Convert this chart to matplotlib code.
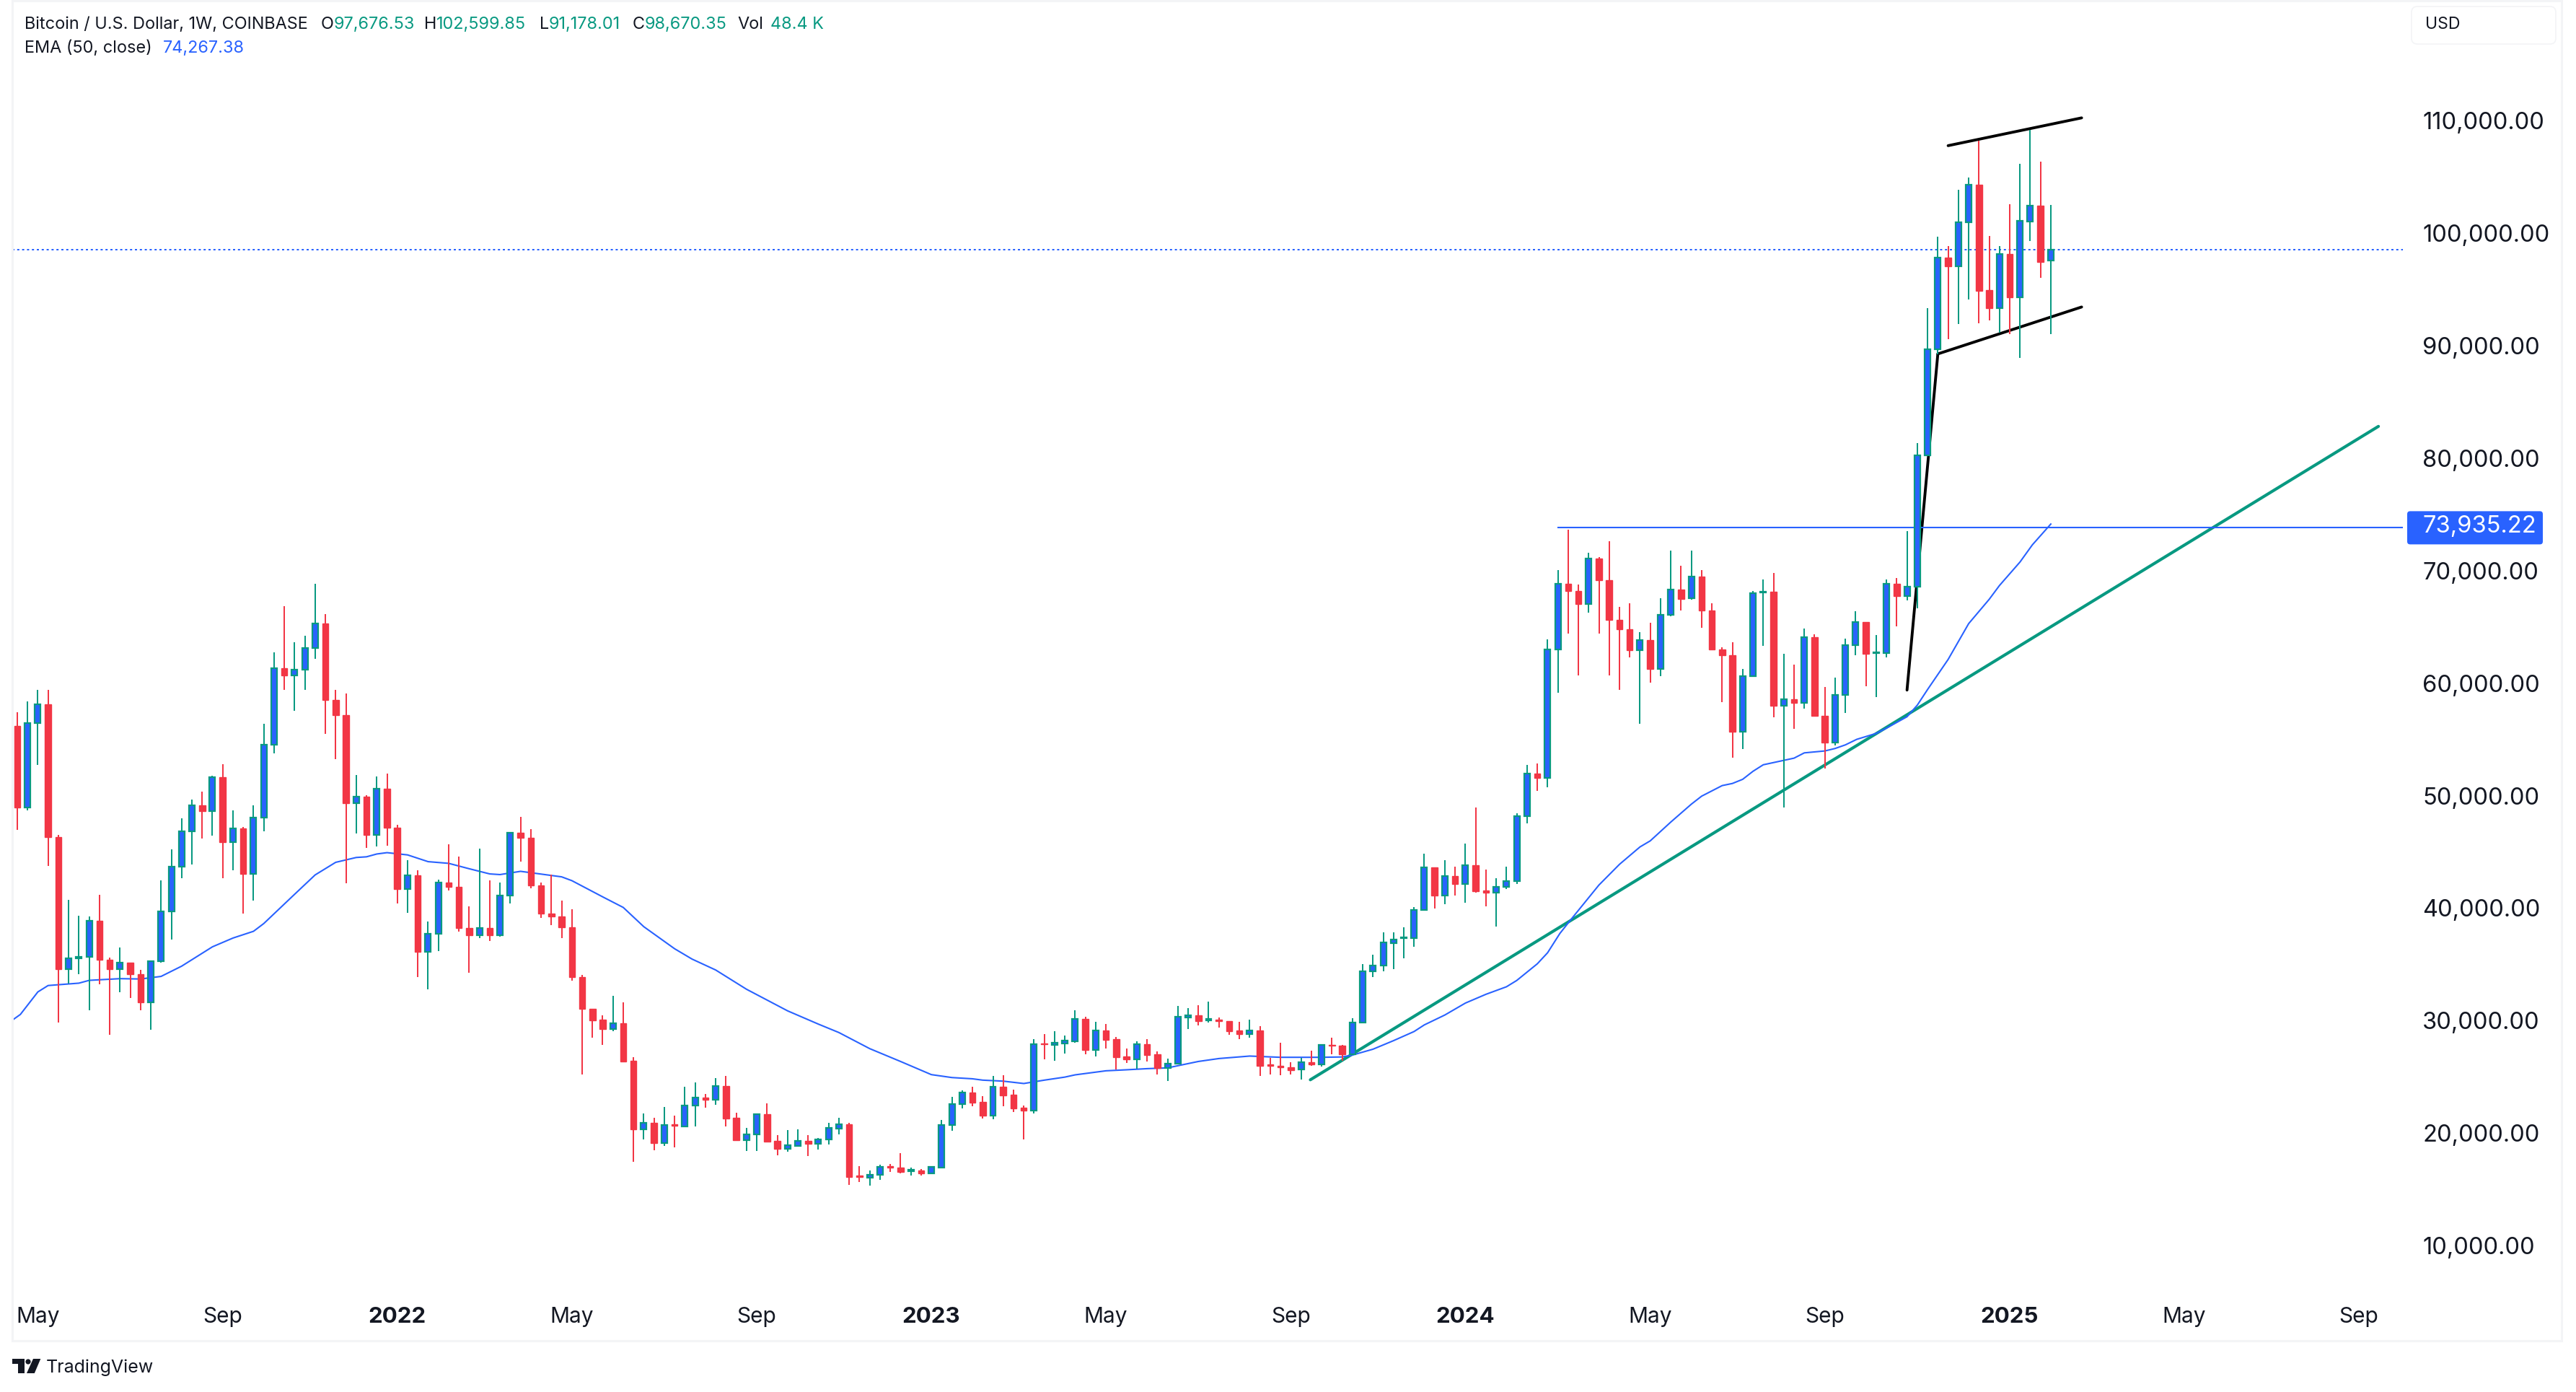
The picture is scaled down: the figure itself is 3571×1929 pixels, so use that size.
import matplotlib
matplotlib.use('Agg')
import matplotlib.pyplot as plt
from matplotlib.patches import Rectangle, FancyBboxPatch, Polygon, Circle
from matplotlib.transforms import IdentityTransform, ScaledTranslation
import numpy as np
import pandas as pd

plt.rcParams['font.family'] = ['Inter', 'DejaVu Sans']

W = 3571
H = 1929

TEAL = '#089981'
RED = '#f23645'
BLUE = '#2962ff'
INK = '#131722'
FRAME = '#f3f4f6'

# weekly candles, first one is the week of 2021-04-19
first_week = pd.Timestamp('2021-04-19')

opens = [56290, 49070, 56580, 58270, 46430, 34690, 35660, 35800, 38980, 35520,
         34690, 35260, 34230, 31740, 35400, 39820, 43800, 46950, 49270, 48730,
         51760, 45980, 47210, 43170, 48180, 54660, 61450, 60820, 61330, 63250,
         65430, 58640, 57290, 49440, 50020, 46630, 50730, 47260, 41820, 43050,
         36230, 37840, 42390, 41990, 38350, 37700, 38350, 37750, 41250, 46810,
         46380, 42140, 39640, 39410, 38410, 33990, 31210, 30200, 29410, 29880,
         26550, 20490, 21030, 19270, 20900, 20750, 22570, 23270, 23120, 24320,
         21480, 19530, 20000, 21800, 19420, 18760, 19020, 19420, 19210, 19550,
         20560, 20900, 16340, 16190, 16410, 17180, 17050, 16770, 16790, 16580,
         17090, 20840, 22700, 23720, 22890, 21710, 24240, 23530, 22380, 22160,
         28090, 27940, 28110, 28320, 30270, 27550, 29240, 28470, 26930, 26720,
         28020, 27120, 25900, 26290, 30440, 30610, 30180, 30200, 30100, 29240,
         28960, 29240, 26230, 26120, 25990, 25770, 26460, 26210, 28000, 27880,
         27120, 29950, 34490, 35000, 37040, 37440, 37440, 39970, 43750, 41270,
         42960, 42250, 43940, 41680, 41490, 42000, 42500, 48290, 52070, 51680,
         63130, 68970, 68330, 67150, 71210, 69290, 65720, 64930, 63040, 63960,
         61380, 66190, 68460, 67660, 69610, 66590, 63130, 62620, 55810, 60750,
         68180, 68220, 58100, 58700, 58360, 64220, 57250, 54830, 59060, 63510,
         65570, 62810, 62810, 68970, 67860, 68680, 80400, 89830, 97980, 97190,
         101120, 104400, 95050, 93470, 98300, 94430, 101170, 102560, 97676.53]

closes = [49070, 56600, 58270, 46430, 34690, 35660, 35800, 38980, 35520, 34690,
          35260, 34230, 31740, 35400, 39820, 43800, 46950, 49270, 48730, 51760,
          45980, 47210, 43170, 48180, 54660, 61450, 60820, 61330, 63250, 65430,
          58610, 57260, 49440, 50020, 46630, 50730, 47260, 41820, 43050, 36230,
          37840, 42390, 41990, 38350, 37700, 38350, 37750, 41250, 46810, 46380,
          42140, 39620, 39410, 38410, 33970, 31210, 30180, 29410, 29880, 26520,
          20490, 21030, 19270, 20840, 20810, 22570, 23270, 23120, 24300, 21460,
          19530, 20000, 21800, 19400, 18760, 19040, 19420, 19210, 19550, 20580,
          20900, 16260, 16260, 16410, 17110, 17090, 16710, 16860, 16580, 17110,
          20840, 22700, 23720, 22870, 21710, 24240, 23510, 22350, 22160, 28020,
          28020, 28150, 28340, 30270, 27550, 29240, 28450, 26910, 26720, 28020,
          27100, 25900, 26290, 30460, 30610, 30120, 30290, 30080, 29220, 28960,
          29240, 26140, 26140, 26010, 25730, 26460, 26210, 27980, 27930, 27170,
          29950, 34490, 35000, 37070, 37310, 37530, 39970, 43750, 41270, 42960,
          42250, 43940, 41640, 41490, 42000, 42520, 48290, 52070, 51680, 63130,
          68970, 68310, 67150, 71210, 69270, 65740, 64900, 63040, 63960, 61380,
          66210, 68460, 67640, 69610, 66570, 63110, 62590, 55790, 60750, 68130,
          68280, 58100, 58700, 58360, 64200, 57250, 54830, 59060, 63510, 65570,
          62720, 62890, 68970, 67860, 68690, 80400, 89830, 97980, 97190, 101120,
          104400, 94980, 93470, 98300, 94430, 101190, 102540, 97550, 98670.35]

highs = [57550, 58520, 59560, 59560, 46660, 40880, 39470, 39410, 41330, 35750,
         36640, 35260, 34630, 35400, 42620, 45370, 48100, 49810, 50500, 51880,
         52910, 48810, 47320, 49270, 56520, 62850, 67000, 63740, 64310, 68980,
         66260, 59500, 59210, 51960, 50160, 51850, 52110, 47550, 44400, 43510,
         38960, 42680, 45830, 44740, 40300, 45430, 42620, 42420, 46920, 48210,
         47180, 42420, 43110, 40790, 40040, 34200, 31210, 30610, 32340, 31770,
         26870, 21880, 21500, 22460, 21690, 24260, 24640, 23620, 25010, 25220,
         21950, 20600, 21880, 22780, 19960, 20410, 20470, 19960, 19700, 21030,
         21500, 21030, 17200, 16810, 17310, 17390, 18350, 17050, 16920, 17110,
         21310, 23360, 23940, 24260, 23420, 25220, 25290, 24000, 22590, 28490,
         28940, 29200, 28810, 31040, 30480, 30030, 29840, 28690, 27660, 28280,
         28490, 27400, 26760, 31450, 31250, 31510, 31830, 30400, 30100, 30030,
         30230, 29650, 26830, 28170, 26440, 26830, 27460, 28000, 28620, 27980,
         30340, 35150, 35990, 38000, 38000, 38440, 40210, 44980, 43750, 44410,
         43820, 45880, 49100, 43580, 42790, 43820, 48560, 52860, 53010, 64030,
         70150, 73780, 68900, 71730, 71300, 72750, 66920, 67240, 64670, 65500,
         67690, 71920, 70570, 71920, 70150, 67240, 63320, 63770, 61400, 68330,
         69350, 69930, 62740, 61800, 64990, 64480, 59790, 60650, 64090, 66530,
         65570, 64410, 69330, 69500, 73610, 81480, 93440, 99780, 98960, 103950,
         105060, 108330, 99860, 98960, 102690, 106280, 109300, 106470, 102599.85]

lows = [47060, 48810, 52880, 43860, 29990, 33430, 34230, 31020, 33340, 28840,
        32680, 32110, 31020, 29300, 35260, 37320, 42820, 44000, 46290, 46550,
        42820, 43480, 39620, 40790, 46950, 53880, 59530, 57660, 59530, 62280,
        55600, 53370, 42310, 46780, 45460, 45630, 45660, 40530, 39700, 34030,
        32940, 36290, 41680, 38010, 34370, 37440, 37180, 37580, 40530, 44260,
        41880, 39240, 38610, 37440, 33710, 25370, 28640, 28000, 29220, 26520,
        17610, 19590, 18630, 19020, 18890, 20750, 20750, 22420, 22650, 20750,
        19530, 18570, 18570, 19340, 18180, 18500, 18930, 18120, 18700, 19150,
        20040, 15550, 15810, 15490, 16000, 16710, 16580, 16340, 16340, 16580,
        17090, 20370, 22350, 22550, 21460, 21390, 22550, 22030, 19590, 21910,
        26720, 26530, 27230, 28190, 27170, 26970, 27680, 25800, 26400, 25880,
        26520, 25370, 24790, 26250, 29410, 29730, 29930, 29540, 28840, 28490,
        28640, 25240, 25350, 25310, 25370, 24910, 26140, 26020, 27170, 26580,
        27070, 29950, 34020, 34540, 34730, 35640, 36720, 39970, 40110, 40480,
        41270, 40630, 41490, 40260, 38490, 41810, 42250, 47680, 50530, 50890,
        59260, 64520, 60800, 66380, 64520, 60800, 59560, 62400, 56500, 60160,
        60730, 66060, 66570, 67540, 65030, 63110, 58420, 53480, 54300, 60690,
        63410, 57120, 49050, 56090, 57850, 57180, 52520, 54570, 57460, 62590,
        59840, 58870, 62400, 65160, 67470, 66770, 80400, 89360, 90690, 92030,
        94210, 92100, 92350, 91260, 91160, 89020, 99410, 96140, 91178.01]

# EMA (50, close) read at its bends
ema_weeks = [-0.5, 0.3, 2, 3, 6, 7, 10, 12, 14, 16, 19, 21, 23, 24, 27, 29, 31, 33, 34, 35,
             36, 38, 40, 42, 44, 46, 47, 49, 53, 54, 57, 59, 61, 64, 65.7, 68, 71, 73, 75, 78,
             80, 83, 86, 89, 91, 93, 94, 96, 98, 100, 102, 103, 106, 108, 110, 112, 115, 117,
             120, 123, 125, 127, 129, 130, 132, 134, 136, 137, 139, 141, 143, 145, 146, 148,
             149, 150.2, 151.2, 154, 156, 158, 159, 161, 163, 164, 166, 167, 168, 169, 170,
             173, 174, 176, 177, 178, 179.1, 181, 182, 184, 185, 186, 188, 190, 192, 193, 195,
             196.2, 198]
ema_values = [30160, 30680, 32680, 33250, 33460, 33710, 33860, 33830, 34060, 34970, 36690,
              37470, 38070, 38760, 41360, 43080, 44200, 44630, 44690, 44940, 45060, 44860,
              44260, 44110, 43630, 43170, 43110, 43400, 42910, 42570, 41130, 40190, 38480,
              36520, 35600, 34630, 32920, 31960, 31000, 29820, 29070, 27640, 26500, 25330,
              25070, 24960, 24840, 24750, 24540, 24840, 25110, 25310, 25670, 25760, 25860,
              25930, 26500, 26760, 26980, 26870, 26870, 26870, 26900, 27070, 27590, 28350,
              29160, 29750, 30630, 31690, 32470, 33140, 33700, 35180, 36160, 37880, 39030,
              42180, 44020, 45570, 46110, 47780, 49370, 50080, 51020, 51210, 51580, 52290,
              52870, 53460, 53930, 54100, 54320, 54640, 55130, 55660, 56130, 57140, 58170,
              59560, 62230, 65415, 67576, 68804, 70892, 72415, 74267.38]

# hand drawn lines on the chart: week number, price
trend_weeks = [125.9, 229.9]
trend_prices = [24870, 82950]
level_start = 150
level_price = 73935.22
pole_weeks = [184, 187]
pole_prices = [59510, 89390]
flag_low_weeks = [187, 201]
flag_low_prices = [89390, 93560]
flag_high_weeks = [188, 201]
flag_high_prices = [107900, 110370]

price_ticks = [10000, 20000, 30000, 40000, 50000, 60000, 70000, 80000, 90000, 100000, 110000]
tick_dates = ['2021-05-03', '2021-09-06', '2022-01-03', '2022-05-02', '2022-09-05', '2023-01-02',
              '2023-05-01', '2023-09-04', '2024-01-01', '2024-05-06', '2024-09-02', '2025-01-06',
              '2025-05-05', '2025-09-01']
tick_names = ['May', 'Sep', '2022', 'May', 'Sep', '2023', 'May', 'Sep', '2024', 'May', 'Sep', '2025',
              'May', 'Sep']

header_pieces = [('Bitcoin / U.S. Dollar, 1W, COINBASE', 34, INK), ('O', 445, INK), ('97,676.53', 463, TEAL),
                 ('H', 588, INK), ('102,599.85', 605, TEAL), ('L', 748, INK), ('91,178.01', 761, TEAL),
                 ('C', 877, INK), ('98,670.35', 894, TEAL), ('Vol', 1022, INK), ('48.4 K', 1068, TEAL)]


def fx(px):
    return px / W


def fy(py):
    return 1 - py / H


fig = plt.figure(figsize=(W / 100, H / 100), dpi=100, facecolor='white')
ax = fig.add_axes([fx(17), fy(1790), fx(3331 - 17), (1790 - 5) / H])
ax.set_facecolor('none')
ax.set_xlim(-0.49, 232.28)
ax.set_ylim(6036, 120526)
for s in ax.spines.values():
    s.set_visible(False)

weeks = np.arange(len(opens))
o = np.array(opens)
c = np.array(closes)
up = c >= o
down = ~up

ax.axhline(closes[-1], color=BLUE, lw=1.44, ls=(0, (1.5, 1.9)), zorder=1)
ax.plot(trend_weeks, trend_prices, color=TEAL, lw=3.0, solid_capstyle='round', zorder=2)
ax.plot(pole_weeks, pole_prices, color='black', lw=2.8, solid_capstyle='round', zorder=2)
ax.plot(flag_low_weeks, flag_low_prices, color='black', lw=2.8, solid_capstyle='round', zorder=2)
ax.plot(flag_high_weeks, flag_high_prices, color='black', lw=2.8, solid_capstyle='round', zorder=2)
ax.plot([level_start, 232.28], [level_price, level_price], color=BLUE, lw=1.5, zorder=2)
ax.plot(ema_weeks, ema_values, color=BLUE, lw=1.5, zorder=3)

# wicks then bodies, the bodies sit on top of all the lines
ax.vlines(weeks[up], np.array(lows)[up], np.array(highs)[up], color=TEAL, lw=1.44, zorder=4)
ax.vlines(weeks[down], np.array(lows)[down], np.array(highs)[down], color=RED, lw=1.44, zorder=4)
ax.bar(weeks[up], (c - o)[up], bottom=o[up], width=0.56, color=BLUE, edgecolor=TEAL, linewidth=1.6, zorder=5)
ax.bar(weeks[down], (c - o)[down], bottom=o[down], width=0.6, color=RED, edgecolor=RED, linewidth=1.0, zorder=5)

ax.yaxis.tick_right()
ax.set_yticks(price_ticks)
ax.set_yticklabels(['{:,.2f}'.format(v) for v in price_ticks], fontsize=23.5, color=INK)
ax.tick_params(axis='y', length=0, pad=19.5)
# the price labels sit two pixels above their level
up_shift = ScaledTranslation(0, 2 / 100, fig.dpi_scale_trans)
for lab in ax.get_yticklabels():
    lab.set_transform(lab.get_transform() + up_shift)

tick_pos = [(pd.Timestamp(d) - first_week).days / 7 for d in tick_dates]
ax.set_xticks(tick_pos)
ax.set_xticklabels(tick_names, fontsize=21.5, color=INK)
ax.tick_params(axis='x', length=0, pad=15)
for lab in ax.get_xticklabels():
    if lab.get_text().isdigit():
        lab.set_fontweight('bold')
        lab.set_fontsize(22.5)

# outer frame of the widget
fig.add_artist(Rectangle((fx(17), fy(1858)), fx(3551 - 17), (1858 - 1) / H, transform=fig.transFigure,
                         facecolor='none', edgecolor=FRAME, lw=2.2))

# header
for txt, x, col in header_pieces:
    fig.text(fx(x), fy(34), txt, fontsize=16.9, color=col, ha='left', va='center')
fig.text(fx(34), fy(67), 'EMA (50, close)', fontsize=16.9, color=INK, ha='left', va='center')
fig.text(fx(226), fy(67), '74,267.38', fontsize=16.9, color=BLUE, ha='left', va='center')

# currency button
fig.add_artist(FancyBboxPatch((3349, H - 55), 188, 40, boxstyle='round,pad=6,rounding_size=8',
                              transform=IdentityTransform(), facecolor='white', edgecolor=FRAME, lw=1.2))
fig.text(fx(3362), fy(34), 'USD', fontsize=16.6, color=INK, ha='left', va='center')

# label of the blue level
level_y = ax.transData.transform((0, level_price))[1]
fig.add_artist(FancyBboxPatch((3340, level_y - 20), 182, 40, boxstyle='round,pad=3,rounding_size=4',
                              transform=IdentityTransform(), facecolor=BLUE, edgecolor='none'))
fig.text(fx(3358), (level_y + 2) / H, '{:,.2f}'.format(level_price), fontsize=23.5, color='white',
         ha='left', va='center')

# TradingView mark
logo_t = [(17, 1883), (33.5, 1883), (33.5, 1903), (24.5, 1903), (24.5, 1890), (17, 1890)]
logo_slash = [(46, 1883), (56.3, 1883), (47.8, 1903), (37, 1903)]
fig.add_artist(Polygon([(x, H - y) for x, y in logo_t], transform=IdentityTransform(), facecolor=INK, edgecolor='none'))
fig.add_artist(Polygon([(x, H - y) for x, y in logo_slash], transform=IdentityTransform(), facecolor=INK, edgecolor='none'))
fig.add_artist(Circle((39, H - 1887), 3.6, transform=IdentityTransform(), facecolor=INK, edgecolor='none'))
fig.text(fx(64), fy(1895), 'TradingView', fontsize=18, color=INK, ha='left', va='center')

fig.savefig('out.png', dpi=100, facecolor='white')
